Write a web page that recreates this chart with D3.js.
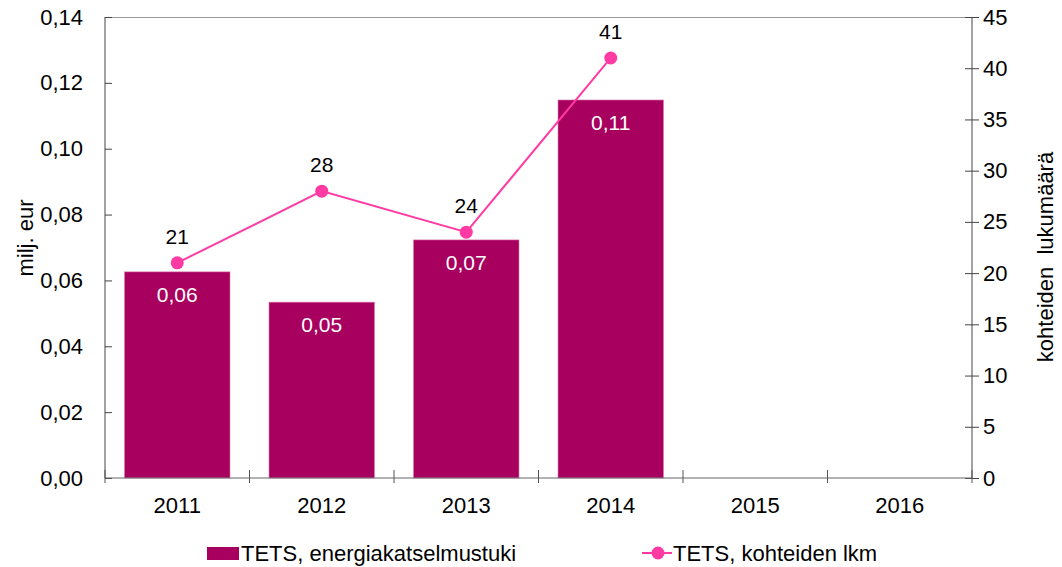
<!DOCTYPE html>
<html>
<head>
<meta charset="utf-8">
<script src="https://d3js.org/d3.v7.min.js"></script>
<style>
  body { margin: 0; background: #fff; }
  svg { font-family: "Liberation Sans", Arial, sans-serif; }
</style>
</head>
<body>
<svg id="chart"></svg>
<script>
// data
const years = ["2011", "2012", "2013", "2014", "2015", "2016"];
const tuki = [0.0626, 0.0534, 0.0723, 0.1148];      // milj. eur
const tukiLabels = ["0,06", "0,05", "0,07", "0,11"];
const kohteet = [21, 28, 24, 41];                    // lkm
const leftTicks = [0, 0.02, 0.04, 0.06, 0.08, 0.10, 0.12, 0.14];
const rightTicks = [0, 5, 10, 15, 20, 25, 30, 35, 40, 45];

const W = 1062, H = 567;
const m = { left: 105, right: 90, top: 17, bottom: 89 };
const iw = W - m.left - m.right, ih = H - m.top - m.bottom;
const FS = 22;

const barColor = "#A8005E";
const lineColor = "#FF3BA3";

const svg = d3.select("#chart").attr("width", W).attr("height", H);
const g = svg.append("g").attr("transform", `translate(${m.left},${m.top})`);

const x = d3.scaleBand().domain(years).range([0, iw]).paddingInner(0.27).paddingOuter(0.135);
const xb = d3.scaleBand().domain(years).range([0, iw]);
const yL = d3.scaleLinear().domain([0, 0.14]).range([ih, 0]);
const yR = d3.scaleLinear().domain([0, 45]).range([ih, 0]);

// top border
g.append("line").attr("x1", 0).attr("x2", iw).attr("y1", 0.5).attr("y2", 0.5)
  .attr("stroke", "#999").attr("stroke-width", 1);

// bars
g.selectAll("rect.bar").data(tuki).join("rect")
  .attr("class", "bar")
  .attr("x", (d, i) => x(years[i]))
  .attr("width", x.bandwidth())
  .attr("y", d => yL(d))
  .attr("height", d => ih - yL(d))
  .attr("fill", barColor)
  .attr("stroke", "#e07aae").attr("stroke-width", 0.6);

g.selectAll("text.blab").data(tuki).join("text")
  .attr("class", "blab")
  .attr("x", (d, i) => x(years[i]) + x.bandwidth() / 2)
  .attr("y", d => yL(d) + 30)
  .attr("text-anchor", "middle")
  .attr("fill", "#fff").attr("font-size", 21)
  .text((d, i) => tukiLabels[i]);

// axes
const fmt = d => d3.format(".2f")(d).replace(".", ",");
const axL = g.append("g").call(d3.axisLeft(yL).tickValues(leftTicks).tickFormat(fmt).tickSize(7).tickPadding(15));
axL.selectAll(".tick line").attr("x2", 7).attr("stroke", "#444");
axL.select(".domain").attr("d", `M0,0V${ih}`).attr("stroke", "#444");

const axR = g.append("g").attr("transform", `translate(${iw},0)`)
  .call(d3.axisRight(yR).tickValues(rightTicks).tickSize(7).tickPadding(4));
axR.selectAll(".tick line").attr("x1", -7).attr("stroke", "#444");
axR.select(".domain").attr("d", `M0,0V${ih}`).attr("stroke", "#444");

const axB = g.append("g").attr("transform", `translate(0,${ih})`)
  .call(d3.axisBottom(x).tickSize(0).tickPadding(19));
axB.select(".domain").attr("d", `M0,0H${iw}`).attr("stroke", "#666");
g.append("g").attr("transform", `translate(0,${ih})`)
  .selectAll("line").data(years.concat(["end"])).join("line")
  .attr("x1", (d, i) => i * xb.bandwidth()).attr("x2", (d, i) => i * xb.bandwidth())
  .attr("y1", -8).attr("y2", 5).attr("stroke", "#555");

[axL, axR, axB].forEach(a => a.selectAll("text").attr("font-size", FS).attr("fill", "#000")
  .attr("font-family", "Liberation Sans, Arial, sans-serif"));

// line series
const cx = i => xb(years[i]) + xb.bandwidth() / 2;
g.append("path").datum(kohteet)
  .attr("fill", "none").attr("stroke", lineColor).attr("stroke-width", 2)
  .attr("d", d3.line().x((d, i) => cx(i)).y(d => yR(d)));
g.selectAll("circle.pt").data(kohteet).join("circle")
  .attr("class", "pt").attr("cx", (d, i) => cx(i)).attr("cy", d => yR(d))
  .attr("r", 6.5).attr("fill", lineColor);
g.selectAll("text.plab").data(kohteet).join("text")
  .attr("class", "plab").attr("x", (d, i) => cx(i)).attr("y", d => yR(d) - 19)
  .attr("text-anchor", "middle").attr("font-size", 21).attr("fill", "#000")
  .text(d => d);

// axis titles
svg.append("text").attr("transform", "translate(33,238) rotate(-90)")
  .attr("text-anchor", "middle").attr("font-size", FS).text("milj. eur");
svg.append("text").attr("transform", "translate(1053,257) rotate(-90)")
  .attr("text-anchor", "middle").attr("font-size", FS).attr("xml:space", "preserve")
  .text("kohteiden  lukumäärä");

// legend
const lg = svg.append("g");
lg.append("rect").attr("x", 207).attr("y", 547).attr("width", 32).attr("height", 13).attr("fill", barColor);
lg.append("text").attr("x", 241).attr("y", 561).attr("font-size", FS).text("TETS, energiakatselmustuki");
lg.append("line").attr("x1", 642).attr("x2", 672).attr("y1", 553).attr("y2", 553)
  .attr("stroke", lineColor).attr("stroke-width", 2);
lg.append("circle").attr("cx", 658).attr("cy", 553).attr("r", 6.5).attr("fill", lineColor);
lg.append("text").attr("x", 673).attr("y", 561).attr("font-size", FS).text("TETS, kohteiden lkm");
</script>
</body>
</html>
